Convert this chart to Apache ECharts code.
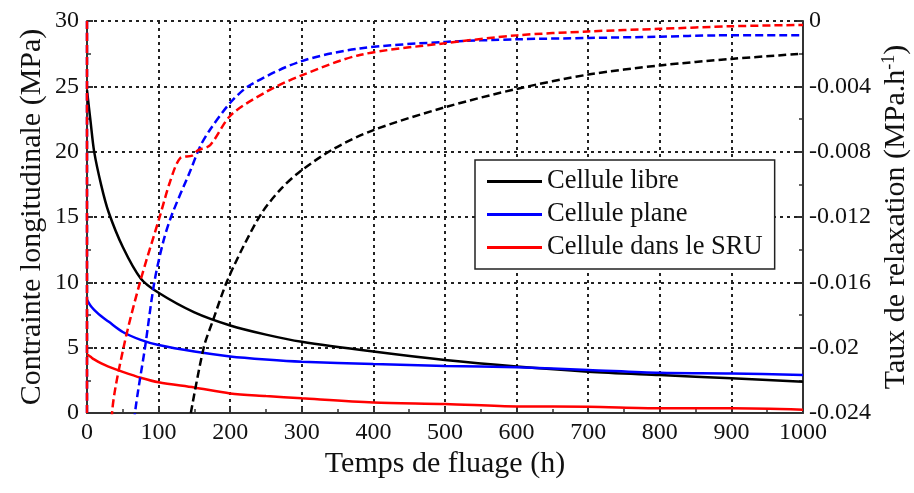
<!DOCTYPE html>
<html>
<head>
<meta charset="utf-8">
<script src="https://cdn.jsdelivr.net/npm/echarts@6.0.0/dist/echarts.min.js"></script>
<style>
html, body { margin: 0; padding: 0; background: #fff; }
#chart { width: 914px; height: 493px; }
</style>
</head>
<body>
<div id="chart"></div>
<script>
var names = ['Cellule libre', 'Cellule plane', 'Cellule dans le SRU'];
var colors = ['#000000', '#0000ff', '#ff0000'];

// contrainte longitudinale (MPa) - axe de gauche
var tStress = [0, 5, 10, 20, 30, 50, 75, 100, 150, 200, 250, 300, 400, 500, 600, 700, 800, 900, 1000];
var stressLibre = [24.7, 22.3, 20.0, 17.4, 15.4, 12.7, 10.3, 9.2, 7.7, 6.7, 6.0, 5.45, 4.7, 4.05, 3.55, 3.16, 2.9, 2.65, 2.4];
var stressPlane = [8.65, 8.2, 7.9, 7.4, 7.0, 6.2, 5.6, 5.2, 4.7, 4.33, 4.1, 3.93, 3.75, 3.6, 3.5, 3.3, 3.08, 3.03, 2.9];
var stressSru = [4.5, 4.3, 4.1, 3.8, 3.55, 3.15, 2.7, 2.35, 1.95, 1.5, 1.3, 1.12, 0.8, 0.69, 0.5, 0.48, 0.36, 0.36, 0.25];

// taux de relaxation (MPa.h-1) - axe de droite
var tRateLibre = [145, 163, 176, 195, 218, 244, 270, 298, 344, 400, 500, 600, 700, 800, 900, 1000];
var rateLibre = [-0.024, -0.020, -0.01832, -0.016, -0.01384, -0.01176, -0.01032, -0.0092, -0.00784, -0.00668,
  -0.00528, -0.00416, -0.00328, -0.00272, -0.00232, -0.0020];
var tRatePlane = [0, 0, 67, 81, 94, 106, 118, 144, 158, 172, 201, 228, 298, 381, 500, 600, 700, 800, 880, 1000];
var ratePlane = [0, -0.05, -0.024, -0.020, -0.016, -0.0136, -0.01192, -0.0092, -0.00768, -0.00664, -0.00496,
  -0.00392, -0.00248, -0.00168, -0.00128, -0.00112, -0.00104, -0.00096, -0.00088, -0.00088];
var tRateSru = [0, 0, 35, 51, 74, 102, 116, 130, 147, 155, 172, 201, 251, 298, 381, 500, 600, 700, 800, 900, 1000];
var rateSru = [0, -0.05, -0.024, -0.020, -0.016, -0.01192, -0.00984, -0.0084, -0.00824, -0.00792, -0.0076,
  -0.00576, -0.00432, -0.00336, -0.00208, -0.00136, -0.00088, -0.00064, -0.00048, -0.00032, -0.00024];

var rateTickLabels = ['-0.024', '-0.02', '-0.016', '-0.012', '-0.008', '-0.004', '0'];

function pairs(t, v) {
  return t.map(function (x, i) { return [x, v[i]]; });
}

var font = 'Liberation Serif';
var axisColor = '#333';
var gridLine = { show: true, lineStyle: { type: [3, 4], color: '#222', width: 2 } };

function solid(i, data) {
  return {
    name: names[i], type: 'line', yAxisIndex: 0, data: data,
    symbol: 'none', color: colors[i], smooth: 0.3,
    lineStyle: { color: colors[i], width: 2.5 }
  };
}
function dashed(i, data) {
  return {
    name: names[i] + ' (taux)', type: 'line', yAxisIndex: 1, data: data,
    symbol: 'none', color: colors[i], smooth: 0.3,
    lineStyle: { color: colors[i], width: 2.5, type: [8, 4] }
  };
}

var myChart = echarts.init(document.getElementById('chart'));

option = {
  backgroundColor: '#fff',
  animation: false,
  textStyle: { fontFamily: font },
  grid: { left: 87, right: 111, top: 21, bottom: 80, containLabel: false, outerBoundsMode: 'none' },
  legend: {
    data: names,
    orient: 'vertical',
    left: 475,
    top: 160,
    padding: [8, 12, 8, 12],
    itemGap: 6,
    itemWidth: 55,
    itemHeight: 3,
    icon: 'rect',
    backgroundColor: '#fff',
    borderColor: '#222',
    borderWidth: 1.5,
    textStyle: { fontFamily: font, fontSize: 26.5, lineHeight: 27, color: '#111' }
  },
  xAxis: {
    type: 'value',
    min: 0, max: 1000, interval: 100,
    name: 'Temps de fluage (h)',
    nameLocation: 'middle',
    nameGap: 36,
    nameMoveOverlap: false,
    nameTextStyle: { fontFamily: font, fontSize: 30, color: '#111' },
    axisLine: { lineStyle: { color: axisColor, width: 2 } },
    axisTick: { inside: true, length: 6, lineStyle: { color: axisColor, width: 2 } },
    minorTick: { show: true, splitNumber: 2, length: 4, lineStyle: { color: axisColor, width: 1.5 } },
    axisLabel: { fontFamily: font, fontSize: 24, color: '#111', margin: 8, formatter: function (v) { return String(v); } },
    splitLine: gridLine
  },
  yAxis: [
    {
      type: 'value',
      min: 0, max: 30, interval: 5,
      name: 'Contrainte longitudinale (MPa)',
      nameLocation: 'middle',
      nameRotate: 90,
      nameGap: 40,
      nameMoveOverlap: false,
      nameTextStyle: { fontFamily: font, fontSize: 30, color: '#111' },
      axisLine: { show: true, lineStyle: { color: axisColor, width: 2 } },
      axisTick: { show: true, inside: true, length: 6, lineStyle: { color: axisColor, width: 2 } },
      minorTick: { show: true, splitNumber: 2, length: 4, lineStyle: { color: axisColor, width: 1.5 } },
      axisLabel: { fontFamily: font, fontSize: 24, color: '#111', margin: 8 },
      splitLine: gridLine
    },
    {
      type: 'value',
      position: 'right',
      min: -0.024, max: 0, interval: 0.004,
      name: 'Taux de relaxation (MPa.h{sup|-1})',
      nameLocation: 'middle',
      nameRotate: 90,
      nameGap: 77,
      nameMoveOverlap: false,
      nameTextStyle: {
        fontFamily: font, fontSize: 30, color: '#111',
        rich: { sup: { fontFamily: font, fontSize: 18, color: '#111', padding: [0, 0, 14, 0] } }
      },
      axisLine: { show: true, lineStyle: { color: axisColor, width: 2 } },
      axisTick: { show: true, inside: true, length: 6, lineStyle: { color: axisColor, width: 2 } },
      minorTick: { show: true, splitNumber: 2, length: 4, lineStyle: { color: axisColor, width: 1.5 } },
      axisLabel: {
        fontFamily: font, fontSize: 24, color: '#111', margin: 6,
        formatter: function (v, i) { return rateTickLabels[i]; }
      },
      splitLine: { show: false }
    }
  ],
  series: [
    solid(0, pairs(tStress, stressLibre)),
    solid(1, pairs(tStress, stressPlane)),
    solid(2, pairs(tStress, stressSru)),
    dashed(0, pairs(tRateLibre, rateLibre)),
    dashed(1, pairs(tRatePlane, ratePlane)),
    dashed(2, pairs(tRateSru, rateSru))
  ]
};

if (option && typeof option === 'object') {
  myChart.setOption(option, true);
}
</script>
</body>
</html>
